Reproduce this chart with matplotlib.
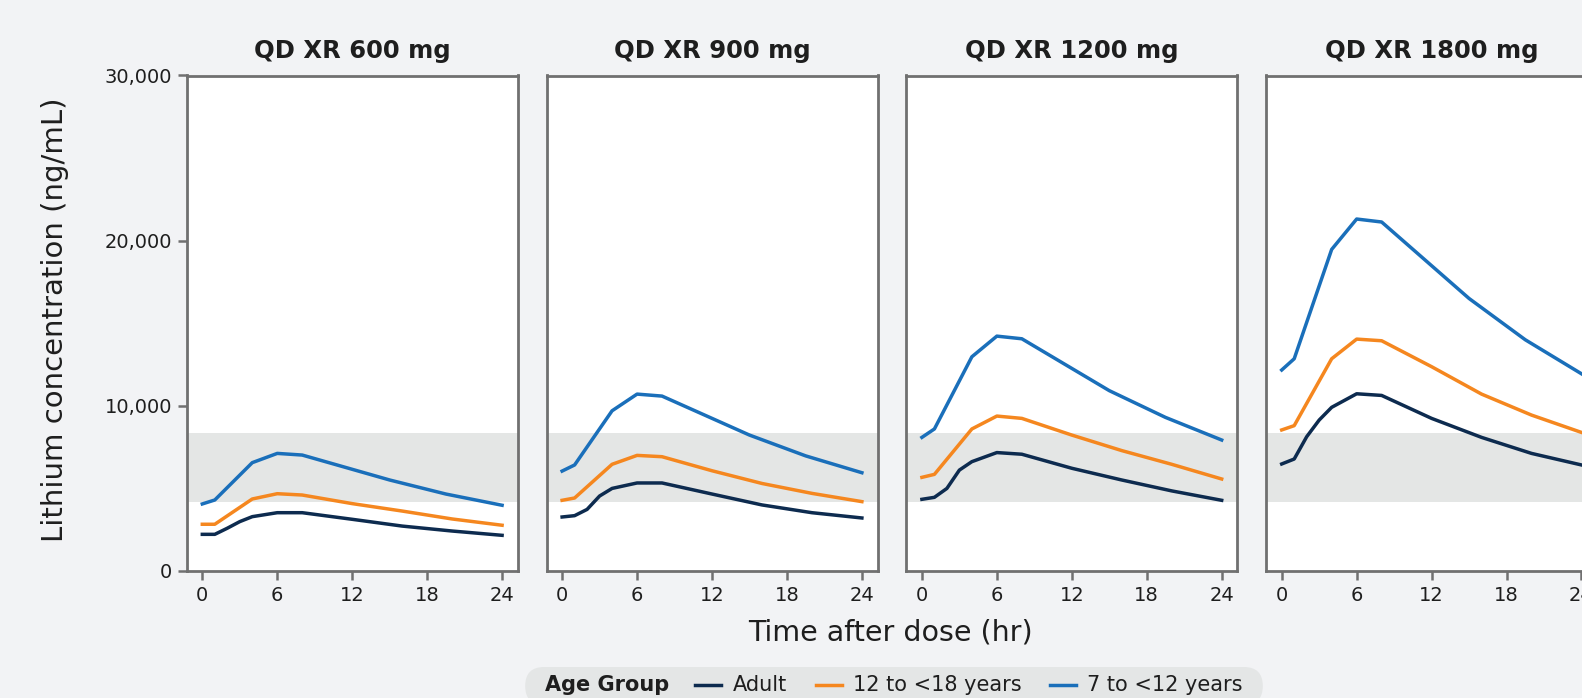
import matplotlib
matplotlib.use("Agg")
import matplotlib.pyplot as plt
from matplotlib.patches import FancyBboxPatch
from matplotlib.lines import Line2D
from matplotlib.ticker import FuncFormatter

plt.rcParams['font.family'] = ['DejaVu Sans']

# ---------------- data ----------------
doses = ["QD XR 600 mg", "QD XR 900 mg", "QD XR 1200 mg", "QD XR 1800 mg"]
groups = ["Adult", "12 to <18 years", "7 to <12 years"]
colors = ["#0d2b4f", "#f5871f", "#1a6fba"]

t_adult = [0, 1, 2, 3, 4, 6, 8, 12, 16, 20, 24]
t_teen = [0, 1, 4, 6, 8, 12, 16, 20, 24]
t_child = [0, 1, 4, 6, 8, 15, 19.5, 24]

adult_600 = [2220, 2220, 2590, 2990, 3290, 3530, 3530, 3130, 2720, 2420, 2160]
adult_900 = [3270, 3350, 3730, 4540, 5000, 5330, 5330, 4660, 4000, 3530, 3210]
adult_1200 = [4340, 4460, 5000, 6110, 6620, 7170, 7070, 6220, 5510, 4850, 4280]
adult_1800 = [6480, 6780, 8130, 9140, 9910, 10730, 10630, 9240, 8090, 7120, 6420]

teen_600 = [2830, 2830, 4360, 4680, 4600, 4080, 3630, 3150, 2770]
teen_900 = [4280, 4420, 6460, 7000, 6920, 6070, 5300, 4700, 4200]
teen_1200 = [5670, 5850, 8600, 9380, 9240, 8230, 7290, 6460, 5570]
teen_1800 = [8540, 8800, 12850, 14040, 13940, 12370, 10710, 9440, 8390]

child_600 = [4060, 4300, 6560, 7120, 7020, 5510, 4660, 3980]
child_900 = [6050, 6420, 9700, 10710, 10590, 8230, 6970, 5950]
child_1200 = [8090, 8600, 12970, 14220, 14060, 10920, 9300, 7930]
child_1800 = [12170, 12850, 19470, 21310, 21130, 16500, 14000, 11940]

adult = [adult_600, adult_900, adult_1200, adult_1800]
teen = [teen_600, teen_900, teen_1200, teen_1800]
child = [child_600, child_900, child_1200, child_1800]

band_low, band_high = 4164, 8328
x_ticks = [0, 6, 12, 18, 24]
y_ticks = [0, 10000, 20000, 30000]

# ---------------- layout ----------------
W, H = 1582, 698
BG = "#f2f3f5"
SPINE = "#707070"
TXT = "#1e1e1e"

fig = plt.figure(figsize=(W / 100, H / 100), dpi=100, facecolor=BG)

left0, pw, step = 186.7, 331.0, 359.8
top_px, bot_px = 75.5, 571.0

axes = []
for i, dose in enumerate(doses):
    l = (left0 + i * step) / W
    ax = fig.add_axes([l, 1 - bot_px / H, pw / W, (bot_px - top_px) / H])
    ax.set_facecolor("white")
    ax.axhspan(band_low, band_high, color="#e4e6e5", lw=0, zorder=1)
    ax.plot(t_adult, adult[i], color=colors[0], lw=2.5, zorder=3)
    ax.plot(t_teen, teen[i], color=colors[1], lw=2.5, zorder=3)
    ax.plot(t_child, child[i], color=colors[2], lw=2.5, zorder=3)
    ax.set_xlim(-1.25, 25.25)
    ax.set_ylim(0, 30000)
    ax.set_xticks(x_ticks)
    ax.set_yticks(y_ticks)
    for s in ax.spines.values():
        s.set_color(SPINE)
        s.set_linewidth(2.0)
    ax.tick_params(axis="x", length=6.5, width=1.8, color=SPINE, pad=4.5,
                   labelsize=14, labelcolor=TXT)
    if i == 0:
        ax.tick_params(axis="y", length=6.5, width=1.8, color=SPINE, pad=4,
                       labelsize=14, labelcolor=TXT)
        ax.yaxis.set_major_formatter(FuncFormatter(lambda v, p: f"{int(v):,}"))
    else:
        ax.tick_params(axis="y", left=False, labelleft=False)
    ax.set_title(dose, fontsize=17.5, fontweight="bold", color=TXT, pad=12.5)
    axes.append(ax)

fig.text(55.5 / W, 1 - 320 / H, "Lithium concentration (ng/mL)", rotation=90,
         ha="center", va="center", fontsize=21, color=TXT)
fig.text(890 / W, 1 - 632 / H, "Time after dose (hr)", ha="center", va="center",
         fontsize=20.5, color=TXT)

# ---------------- legend (manual, inline title) ----------------
fig.canvas.draw()
renderer = fig.canvas.get_renderer()
leg_y = 1 - 685 / H
fs = 15
title_t = fig.text(0, leg_y, "Age Group", fontsize=fs, fontweight="bold",
                   color=TXT, ha="left", va="center")
label_ts = [fig.text(0, leg_y, g, fontsize=fs, color=TXT, ha="left", va="center")
            for g in groups]


def wpx(t):
    return t.get_window_extent(renderer).width


gap_title, hlen, hpad, gap_item, pad_side = 26, 26, 11, 29, 20
total = wpx(title_t) + sum(gap_title if k == 0 else gap_item for k in range(3)) \
    + 3 * (hlen + hpad) + sum(wpx(t) for t in label_ts)
cx = 894
x = cx - total / 2
box_l = x - pad_side
box_r = x + total + pad_side
title_t.set_x(x / W)
x += wpx(title_t)
for k, t in enumerate(label_ts):
    x += gap_title if k == 0 else gap_item
    fig.add_artist(Line2D([x / W, (x + hlen) / W], [leg_y, leg_y],
                          transform=fig.transFigure, color=colors[k], lw=2.5))
    x += hlen + hpad
    t.set_x(x / W)
    x += wpx(t)

box = FancyBboxPatch((box_l / W, 1 - 705 / H), (box_r - box_l) / W, (705 - 667) / H,
                     boxstyle="round,pad=0,rounding_size=0.012",
                     transform=fig.transFigure, facecolor="#e4e6e6",
                     edgecolor="none", zorder=-1, mutation_aspect=W / H)
fig.add_artist(box)

fig.savefig("out.png", dpi=100, facecolor=BG)
